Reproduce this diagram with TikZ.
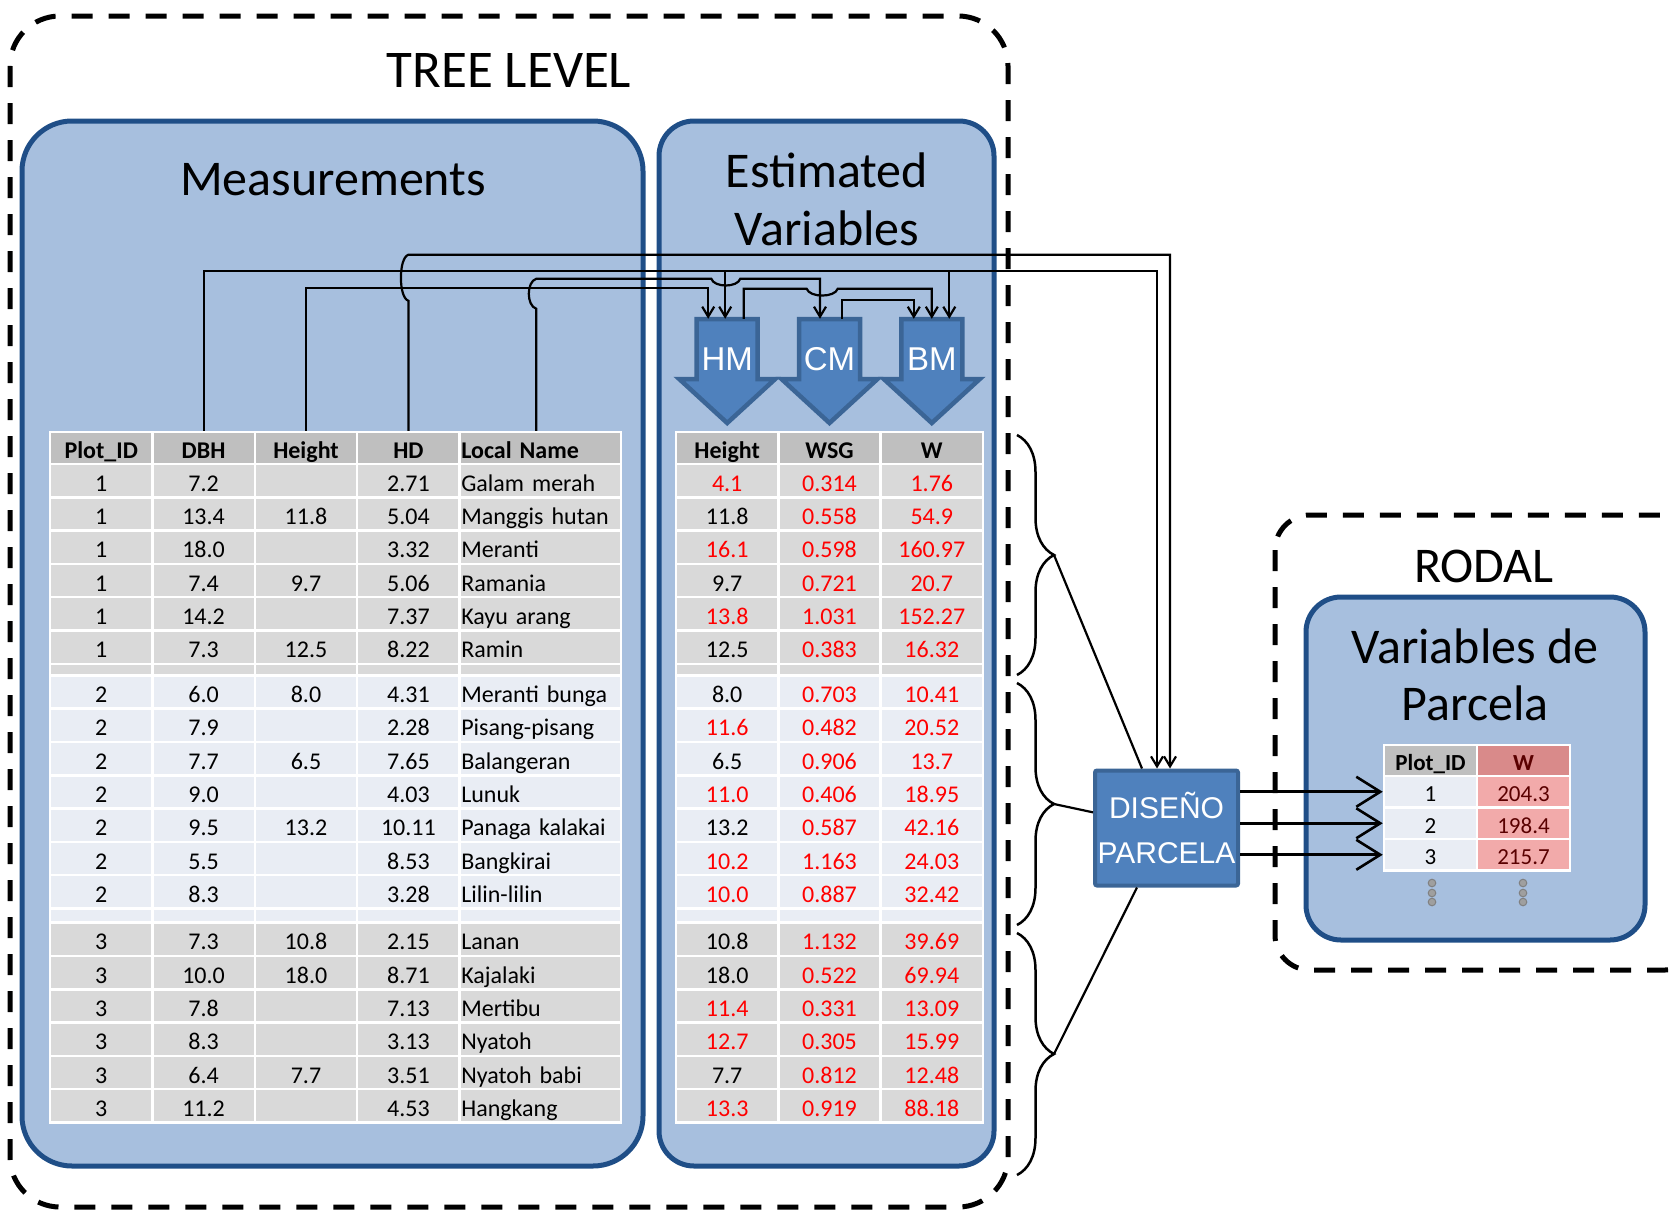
\documentclass[tikz,border=0pt]{standalone}
\usepackage{fontspec}
\setmainfont{Carlito}
\newfontfamily\arialfont{Liberation Sans}
\usetikzlibrary{arrows.meta,decorations.pathreplacing}

\definecolor{panelfill}{HTML}{A7BFDE}
\definecolor{paneledge}{HTML}{1F4E87}
\definecolor{modelfill}{HTML}{4F81BD}
\definecolor{modeledge}{HTML}{3B6596}
\definecolor{headgray}{HTML}{BFBFBF}
\definecolor{rowgray}{HTML}{D9D9D9}
\definecolor{rowlight}{HTML}{E9EDF4}
\definecolor{wpink}{HTML}{F2AAAA}
\definecolor{wpinkhead}{HTML}{D98A8A}
\definecolor{wtext}{HTML}{5A0000}

\newcommand{\tabfont}{\fontsize{24}{28}\selectfont}
\newcommand{\titlefont}{\fontsize{50}{58}\selectfont}

\begin{document}
\begin{tikzpicture}[
  x=1pt, y=-1pt,
  level/.style={draw, line width=5pt, dash pattern=on 21pt off 16pt, rounded corners=50pt},
  panel/.style={draw=paneledge, fill=panelfill, line width=5pt, rounded corners=50pt},
  title/.style={font=\titlefont, anchor=base, inner sep=0pt},
  cell/.style={draw=white, line width=2.5pt, fill=rowgray, minimum width=102.4pt, minimum height=33.3pt, inner sep=0pt, font=\tabfont, text height=23pt, text depth=2pt},
  head/.style={cell, fill=headgray, minimum height=32pt, font=\tabfont\bfseries},
  namecell/.style={minimum width=161.4pt, text width=158pt, align=left},
  est/.style={cell, minimum width=102.3pt, text=red},
  model/.style={draw=modeledge, fill=modelfill, line width=4.5pt},
  modeltext/.style={minimum width=61pt, minimum height=58pt, inner sep=0pt, text=white, font=\arialfont\fontsize{33}{36}\selectfont, text height=44pt, text depth=0pt},
  diseno/.style={draw=modeledge, fill=modelfill, line width=4pt, rounded corners=2pt, minimum width=143pt, minimum height=115pt, inner sep=0pt, text=white, align=center, font=\arialfont\fontsize{30}{45}\selectfont},
  link/.style={line width=2.2pt, -{Straight Barb[length=10pt,width=12pt]}},
  plain/.style={line width=2.2pt},
  brace/.style={decorate, decoration={brace, amplitude=37pt}, line width=2.5pt},
  bigarrow/.style={line width=2.6pt, -{Straight Barb[length=24pt,width=30pt]}},
  small/.style={draw=white, line width=2.5pt, minimum width=93pt, minimum height=31.5pt, inner sep=0pt, font=\fontsize{23}{27}\selectfont, text height=22pt, text depth=2pt},
  dot/.style={fill=gray!75, draw=gray, line width=1pt}
]
  \useasboundingbox (0,0) rectangle (1674,1210);

  \draw[level] (10,16) rectangle (1008,1207);
  \draw[level, rounded corners=35pt] (1275,515) rectangle (1700,970);
  \node[title, font=\fontsize{53}{60}\selectfont] (tree) at (509,87) {TREE LEVEL};
  \node[title] (rodal) at (1484,582) {RODAL};

  \draw[panel] (22,121) rectangle (643,1166);
  \draw[panel, rounded corners=35pt] (659,121) rectangle (994,1166);
  \draw[panel, rounded corners=35pt] (1306,597) rectangle (1645,940);
  \node[title] (meas) at (333,195) {Measurements};
  \node[title] (est1) at (827,187) {Estimated};
  \node[title] (est2) at (827,245) {Variables};
  \node[title] (vpar1) at (1475,663) {Variables de};
  \node[title] (vpar2) at (1475,720) {Parcela};

  \foreach \m/\lab/\x in {hm/HM/727.2, cm/CM/829.5, bm/BM/931.8} {
    \draw[model] (\x-30.5,319) -- (\x+30.5,319) -- (\x+30.5,379) -- (\x+48,379) -- (\x,423) -- (\x-48,379) -- (\x-30.5,379) -- cycle;
    \node[modeltext] (\m) at (\x,348) {\lab};
  }

  \foreach \n/\t/\x in {mpid/Plot\_ID/101.2, mdbh/DBH/203.6, mh/Height/306.0, mhd/HD/408.4}
    \node[head] (\n) at (\x,448) {\t};
  \node[head, namecell] (mln) at (540.3,448) {Local Name};
  \foreach \n/\t/\x in {eh/Height/727.2, ewsg/WSG/829.5, ew/W/931.8}
    \node[head, minimum width=102.3pt] (\n) at (\x,448) {\t};

  \foreach \pid/\dbh/\hgt/\hd/\lname/\eht/\ehc/\wsg/\wgt [count=\i] in {
    1/7.2/{}/2.71/Galam merah/4.1/red/0.314/1.76,
    1/13.4/11.8/5.04/Manggis hutan/11.8/black/0.558/54.9,
    1/18.0/{}/3.32/Meranti/16.1/red/0.598/160.97,
    1/7.4/9.7/5.06/Ramania/9.7/black/0.721/20.7,
    1/14.2/{}/7.37/Kayu arang/13.8/red/1.031/152.27,
    1/7.3/12.5/8.22/Ramin/12.5/black/0.383/16.32,
    2/6.0/8.0/4.31/Meranti bunga/8.0/black/0.703/10.41,
    2/7.9/{}/2.28/Pisang-pisang/11.6/red/0.482/20.52,
    2/7.7/6.5/7.65/Balangeran/6.5/black/0.906/13.7,
    2/9.0/{}/4.03/Lunuk/11.0/red/0.406/18.95,
    2/9.5/13.2/10.11/Panaga kalakai/13.2/black/0.587/42.16,
    2/5.5/{}/8.53/Bangkirai/10.2/red/1.163/24.03,
    2/8.3/{}/3.28/Lilin-lilin/10.0/red/0.887/32.42,
    3/7.3/10.8/2.15/Lanan/10.8/black/1.132/39.69,
    3/10.0/18.0/8.71/Kajalaki/18.0/black/0.522/69.94,
    3/7.8/{}/7.13/Mertibu/11.4/red/0.331/13.09,
    3/8.3/{}/3.13/Nyatoh/12.7/red/0.305/15.99,
    3/6.4/7.7/3.51/Nyatoh babi/7.7/black/0.812/12.48,
    3/11.2/{}/4.53/Hangkang/13.3/red/0.919/88.18} {
    \pgfmathsetmacro{\y}{464+(\i-0.5)*33.3+11.6*(\pid>1)+14.2*(\pid>2)}
    \ifnum\pid=2 \def\fc{rowlight}\else\def\fc{rowgray}\fi
    \node[cell, fill=\fc] (r\i-1) at (101.2,\y) {\pid};
    \node[cell, fill=\fc] (r\i-2) at (203.6,\y) {\dbh};
    \node[cell, fill=\fc] (r\i-3) at (306.0,\y) {\hgt};
    \node[cell, fill=\fc] (r\i-4) at (408.4,\y) {\hd};
    \node[cell, namecell, fill=\fc] (r\i-5) at (540.3,\y) {\lname};
    \node[est, fill=\fc, text=\ehc] (r\i-6) at (727.2,\y) {\eht};
    \node[est, fill=\fc] (r\i-7) at (829.5,\y) {\wsg};
    \node[est, fill=\fc] (r\i-8) at (931.8,\y) {\wgt};
  }
  \foreach \y/\hh/\fc in {669.6/11.6/rowgray, 915.6/14.2/rowlight}
    \foreach \x/\ww in {101.2/102.4, 203.6/102.4, 306.0/102.4, 408.4/102.4, 540.3/161.4, 727.2/102.3, 829.5/102.3, 931.8/102.3}
      \draw[draw=white, line width=2.5pt, fill=\fc] (\x-\ww/2,\y-\hh/2) rectangle (\x+\ww/2,\y+\hh/2);

  \node[diseno] (ds) at (1166.5,828) {DISEÑO\\PARCELA};

  \node[small, fill=headgray, font=\fontsize{23}{27}\selectfont\bfseries] (sp) at (1430.5,760.5) {Plot\_ID};
  \node[small, fill=wpinkhead, text=wtext, font=\fontsize{23}{27}\selectfont\bfseries] (sw) at (1523.5,760.5) {W};
  \foreach \pnum/\wval [count=\i] in {1/204.3, 2/198.4, 3/215.7} {
    \pgfmathsetmacro{\y}{776+(\i-0.5)*31.5}
    \node[small, fill=rowlight] (p\i) at (1430.5,\y) {\pnum};
    \node[small, fill=wpink, text=wtext] (w\i) at (1523.5,\y) {\wval};
  }
  \foreach \x in {1432, 1523}
    \foreach \y in {883, 893, 902}
      \draw[dot] (\x,\y) circle (3.8pt);

  \draw[link] (mh.north) -- ++(0,-143) -| ([xshift=-19]hm.north);
  \draw[link] (mdbh.north) -- ++(0,-160) -| ([xshift=-9.5]ds.north);
  \draw[link] (hm.north) ++(-2,-47) -- ++(0,47);
  \draw[link] (bm.north) ++(17.5,-47) -- ++(0,47);
  \draw[link] (mhd.north) -- ++(0,-130) .. controls +(-10,-3) and +(-10,3) .. ++(0,-46) -| ([xshift=3.5]ds.north);
  \draw[link] ([xshift=-4]mln.north) -- ++(0,-122) .. controls +(-10,-3) and +(-10,3) .. ++(0,-30) -- ++(175,0) .. controls +(3,9) and +(-3,9) .. ++(29,0) -| ([xshift=-9.5]cm.north);
  \draw[link] ([xshift=16.5]hm.north) -- ++(0,-30) -- ++(63,0) .. controls +(3,9) and +(-3,9) .. ++(31,0) -| (bm.north);
  \draw[link] ([xshift=12.5]cm.north) -- ++(0,-19) -| ([xshift=-18]bm.north);

  \draw[brace] (1017,435) -- (1017,675);
  \draw[brace] (1017,683) -- (1017,925);
  \draw[brace] (1017,933) -- (1017,1175);
  \coordinate (br1) at (1054,555);
  \coordinate (br2) at (1054,804);
  \coordinate (br3) at (1054,1054);
  \draw[plain] (br1) -- (ds);
  \draw[plain] (br2) -- (ds);
  \draw[plain] (br3) -- (ds);

  \foreach \i in {1,2,3}
    \draw[bigarrow] (ds.east |- p\i.west) -- (p\i.west);
\end{tikzpicture}
\end{document}
